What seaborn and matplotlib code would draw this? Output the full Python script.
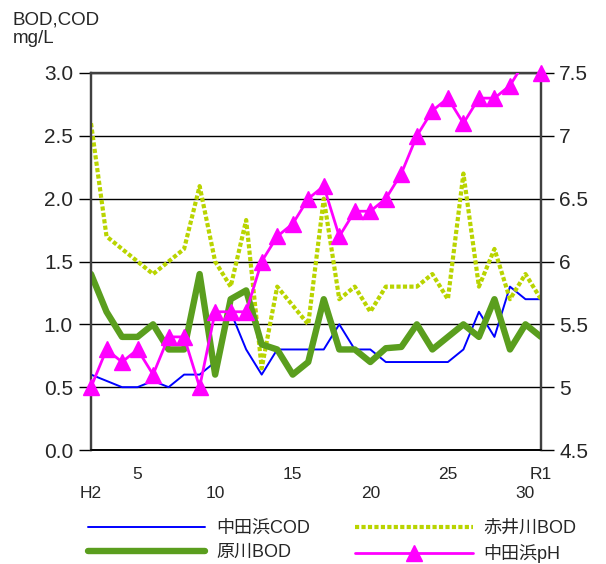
import numpy as np
import pandas as pd
import matplotlib
matplotlib.use("Agg")
import matplotlib.pyplot as plt
from matplotlib.lines import Line2D
from matplotlib.ticker import FormatStrFormatter, FuncFormatter
from matplotlib.transforms import offset_copy
import seaborn as sns

# -------------------- DATA --------------------
years = ["H2", "H3", "H4", "H5", "H6", "H7", "H8", "H9", "H10", "H11",
         "H12", "H13", "H14", "H15", "H16", "H17", "H18", "H19", "H20", "H21",
         "H22", "H23", "H24", "H25", "H26", "H27", "H28", "H29", "H30", "R1"]

nakatahama_cod = [0.6, 0.55, 0.5, 0.5, 0.55, 0.5, 0.6, 0.6, 0.7, 1.1,
                  0.8, 0.6, 0.8, 0.8, 0.8, 0.8, 1.0, 0.8, 0.8, 0.7,
                  0.7, 0.7, 0.7, 0.7, 0.8, 1.1, 0.9, 1.3, 1.2, 1.2]

akaigawa_bod = [2.6, 1.7, 1.6, 1.5, 1.4, 1.5, 1.6, 2.1, 1.5, 1.3,
                1.83, 0.65, 1.3, 1.15, 1.0, 2.0, 1.2, 1.3, 1.1, 1.3,
                1.3, 1.3, 1.4, 1.2, 2.2, 1.3, 1.6, 1.2, 1.4, 1.2]

haragawa_bod = [1.4, 1.1, 0.9, 0.9, 1.0, 0.8, 0.8, 1.4, 0.6, 1.2,
                1.27, 0.84, 0.8, 0.6, 0.7, 1.2, 0.8, 0.8, 0.7, 0.81,
                0.82, 1.0, 0.8, 0.9, 1.0, 0.9, 1.2, 0.8, 1.0, 0.9]

nakatahama_ph = [5.0, 5.3, 5.2, 5.3, 5.1, 5.4, 5.4, 5.0, 5.6, 5.6,
                 5.6, 6.0, 6.2, 6.3, 6.5, 6.6, 6.2, 6.4, 6.4, 6.5,
                 6.7, 7.0, 7.2, 7.3, 7.1, 7.3, 7.3, 7.4, 7.6, 7.5]

# x labels: upper row and lower row
xlabels_top = {3: "5", 13: "15", 23: "25", 29: "R1"}
xlabels_low = {0: "H2", 8: "10", 18: "20", 28: "30"}

# -------------------- STYLE --------------------
sns.set_style("white")
plt.rcParams["font.family"] = ["Liberation Sans", "Noto Sans CJK JP", "DejaVu Sans"]

C_BLUE = "#0000FF"
C_YEL = "#B9D400"
C_GRN = "#5A9E1E"
C_MAG = "#FF00FF"
C_SPINE = "#404040"

df = pd.DataFrame({
    "idx": np.arange(len(years)),
    "cod": nakatahama_cod,
    "akai": akaigawa_bod,
    "hara": haragawa_bod,
    "ph": nakatahama_ph,
})

fig = plt.figure(figsize=(6.06, 5.64), dpi=100)
ax = fig.add_axes([91 / 606, 1 - 450 / 564, 450 / 606, 377 / 564])

# -------------------- LINES --------------------
sns.lineplot(data=df, x="idx", y="cod", ax=ax, color=C_BLUE, linewidth=1.4, zorder=3)
sns.lineplot(data=df, x="idx", y="akai", ax=ax, color=C_YEL, linewidth=3.0,
             linestyle=(0, (1, 0.55)), zorder=4)
sns.lineplot(data=df, x="idx", y="hara", ax=ax, color=C_GRN, linewidth=4.6, zorder=5)

ax.set_xlim(0, len(years) - 1)
ax.set_ylim(0, 3.0)
ax.set_yticks(np.arange(0, 3.01, 0.5))
ax.yaxis.set_major_formatter(FormatStrFormatter("%.1f"))
ax.grid(axis="y", color="black", linewidth=1.0, zorder=0)
ax.grid(axis="x", visible=False)
ax.set_xticks(df["idx"])
ax.set_xticklabels([xlabels_top.get(i, "") for i in df["idx"]], fontsize=12.5)
ax.tick_params(axis="x", direction="in", length=7, width=1, color="black", pad=12)
ax.tick_params(axis="y", direction="out", length=9, width=1, color="black",
               labelsize=15, pad=4)
ax.set_xlabel("")
ax.set_ylabel("")

# lower row of year labels
low_tr = offset_copy(ax.get_xaxis_transform(), fig=fig, x=0, y=-43 * 72 / 100,
                     units="points")
for i, lab in xlabels_low.items():
    ax.text(df["idx"][i], 0, lab, transform=low_tr, ha="center", va="center",
            fontsize=12.5, clip_on=False)

ax2 = ax.twinx()
sns.lineplot(data=df, x="idx", y="ph", ax=ax2, color=C_MAG, linewidth=2.0, zorder=6)
ph_vis = df[df["ph"] <= 7.5]
ax2.plot(ph_vis["idx"], ph_vis["ph"], linestyle="none", marker="^", markersize=12,
         color=C_MAG, clip_on=False, zorder=7)
ax2.set_ylim(4.5, 7.5)
ax2.set_yticks(np.arange(4.5, 7.51, 0.5))
ax2.yaxis.set_major_formatter(FuncFormatter(lambda v, p: f"{v:g}"))
ax2.tick_params(axis="y", direction="out", length=9, width=1, color="black",
                labelsize=15, pad=4)
ax2.set_ylabel("")
ax2.grid(False)

for a in (ax, ax2):
    for side in ("left", "right", "top"):
        a.spines[side].set_color(C_SPINE)
        a.spines[side].set_linewidth(1.6)
    a.spines["bottom"].set_color("black")
    a.spines["bottom"].set_linewidth(1.2)

fig.text(13 / 606, 1 - 29 / 564, "BOD,COD\nmg/L", fontsize=13.5, ha="left",
         va="center", linespacing=1.15)

# -------------------- LEGEND --------------------
handles = [
    Line2D([], [], color=C_BLUE, linewidth=1.4),
    Line2D([], [], color=C_GRN, linewidth=4.6),
    Line2D([], [], color=C_YEL, linewidth=3.0, linestyle=(0, (1, 0.55))),
    Line2D([], [], color=C_MAG, linewidth=2.0, marker="^", markersize=12),
]
labels = ["中田浜COD", "原川BOD", "赤井川BOD", "中田浜pH"]
fig.legend(handles, labels, ncol=2, loc="upper left", frameon=False,
           bbox_to_anchor=(88 / 606, 1 - 520 / 564), fontsize=13,
           handlelength=6.5, handletextpad=0.6, columnspacing=2.5,
           labelspacing=0.4, borderpad=0, borderaxespad=0)

plt.savefig("out.png", dpi=100)
plt.close()
